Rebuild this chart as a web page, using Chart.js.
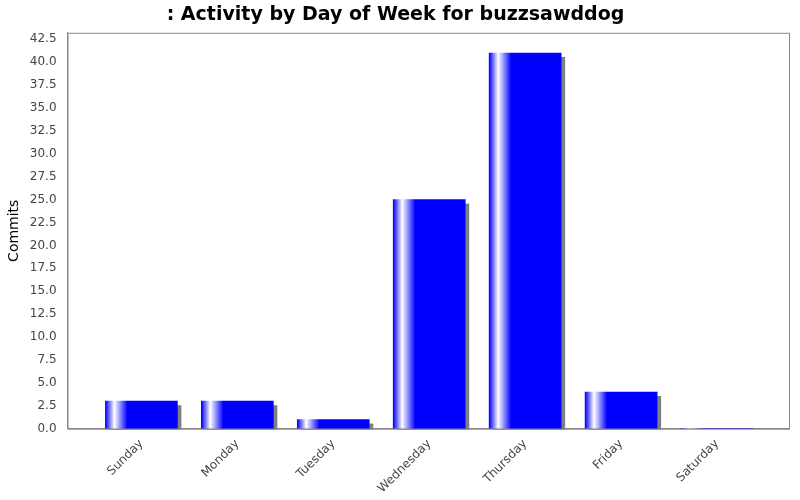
<!DOCTYPE html>
<html><head><meta charset="utf-8">
<script src="https://cdn.jsdelivr.net/npm/chart.js@4"></script>
<style>body{margin:0;background:#fff}#w{width:800px;height:500px}</style>
</head><body><div id="w"><canvas id="c"></canvas></div>
<script>
const categories=["Sunday","Monday","Tuesday","Wednesday","Thursday","Friday","Saturday"];
const commits=[3,3,1,25,41,4,0];
const yTicks=[0,2.5,5,7.5,10,12.5,15,17.5,20,22.5,25,27.5,30,32.5,35,37.5,40,42.5];
const BW=72;
function grad(ctx){
  const chart=ctx.chart; const xs=chart.scales&&chart.scales.x;
  if(!xs||ctx.dataIndex===undefined) return '#0000ff';
  const cx=xs.getPixelForValue(ctx.dataIndex); const x0=cx-BW/2;
  if(!isFinite(x0)) return '#0000ff';
  const g=chart.ctx.createLinearGradient(x0,0,x0+BW,0);
  g.addColorStop(0,'#0000ff');
  g.addColorStop(9/BW,'#ffffff');
  g.addColorStop(22/BW,'#0000ff');
  g.addColorStop(1,'#0000ff');
  return g;
}
const shadow={id:'shadow',beforeDatasetsDraw(chart){
  const c=chart.ctx; const meta=chart.getDatasetMeta(0);
  c.save(); c.fillStyle='#808080';
  meta.data.forEach(b=>{ if(b.base-b.y<=0) return;
    c.fillRect(b.x-b.width/2+4,b.y+4,b.width,b.base-b.y-4+1);});
  c.restore();}};
const frame={id:'frame',afterDraw(chart){
  const a=chart.chartArea,c=chart.ctx;c.save();c.strokeStyle='#888';c.lineWidth=1;
  c.strokeRect(a.left+0.5,a.top+0.5,a.right-a.left,a.bottom-a.top);c.restore();}};
new Chart(document.getElementById('c'),{
  type:'bar',
  data:{datasets:[{data:commits.map((v,i)=>({x:i,y:v})),backgroundColor:grad,barThickness:BW}]},
  options:{responsive:true,maintainAspectRatio:false,animation:false,
    layout:{padding:{left:2,right:11,top:0,bottom:4}},
    plugins:{legend:{display:false},tooltip:{enabled:false},
      title:{display:true,text:': Activity by Day of Week for buzzsawddog',color:'#000',
        font:{family:'DejaVu Sans',size:19,weight:'bold'},padding:{top:4,bottom:6}}},
    scales:{
      x:{type:'linear',min:-0.77,max:6.75,offset:false,grid:{display:false},border:{color:'#888'},
        afterBuildTicks(ax){ax.ticks=categories.map((c,i)=>({value:i}));},
        ticks:{maxRotation:45,minRotation:45,color:'#444',padding:0,font:{family:'DejaVu Sans',size:12},callback:v=>categories[v]}},
      y:{min:0,max:43.2,grid:{display:false},border:{color:'#888'},
        afterBuildTicks(ax){ax.ticks=yTicks.map(v=>({value:v}));},
        ticks:{color:'#444',font:{family:'DejaVu Sans',size:12},callback:v=>v.toFixed(1)},
        title:{display:true,text:'Commits',color:'#000',font:{family:'DejaVu Sans',size:14}}}
    }},
  plugins:[shadow,frame]
});
</script></body></html>
